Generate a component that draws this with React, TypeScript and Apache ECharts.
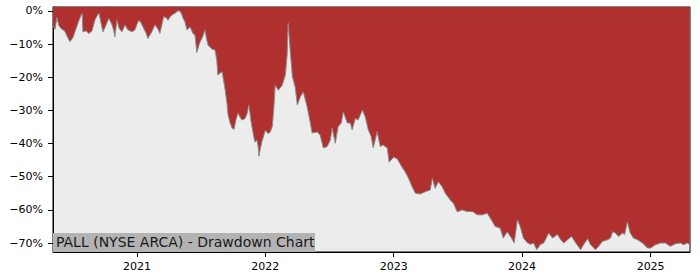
import React, { useEffect, useRef } from "react";
import * as echarts from "echarts";

const dates: string[] = [
  "2020-05-07","2020-05-13","2020-05-18","2020-05-24","2020-06-01","2020-06-09","2020-06-18","2020-06-24",
  "2020-07-03","2020-07-11","2020-07-17","2020-07-23","2020-07-29","2020-07-31","2020-08-09","2020-08-17",
  "2020-08-26","2020-09-03","2020-09-09","2020-09-15","2020-09-23","2020-09-26","2020-10-02","2020-10-07",
  "2020-10-13","2020-10-22","2020-10-27","2020-10-30","2020-11-05","2020-11-11","2020-11-19","2020-11-28",
  "2020-12-06","2020-12-18","2020-12-26","2021-01-01","2021-01-06","2021-01-12","2021-01-18","2021-01-26",
  "2021-02-01","2021-02-12","2021-02-21","2021-03-02","2021-03-07","2021-03-13","2021-03-18","2021-03-27",
  "2021-03-30","2021-04-05","2021-04-10","2021-04-19","2021-04-27","2021-05-03","2021-05-09","2021-05-12",
  "2021-05-17","2021-05-23","2021-06-01","2021-06-09","2021-06-15","2021-06-20","2021-06-29","2021-07-08",
  "2021-07-13","2021-07-19","2021-07-22","2021-08-02","2021-08-11","2021-08-16","2021-08-19","2021-08-25",
  "2021-08-31","2021-09-08","2021-09-14","2021-09-17","2021-09-22","2021-09-28","2021-10-04","2021-10-09",
  "2021-10-15","2021-10-21","2021-10-26","2021-11-04","2021-11-10","2021-11-15","2021-11-21","2021-11-24",
  "2021-12-02","2021-12-08","2021-12-11","2021-12-14","2021-12-17","2021-12-22","2022-01-01","2022-01-09",
  "2022-01-15","2022-01-21","2022-01-26","2022-01-29","2022-02-07","2022-02-18","2022-02-27","2022-03-04",
  "2022-03-07","2022-03-13","2022-03-19","2022-03-27","2022-04-02","2022-04-10","2022-04-19","2022-04-30",
  "2022-05-09","2022-05-14","2022-05-29","2022-06-06","2022-06-15","2022-06-26","2022-07-05","2022-07-10",
  "2022-07-19","2022-07-27","2022-08-05","2022-08-11","2022-08-22","2022-08-31","2022-09-05","2022-09-14",
  "2022-09-22","2022-10-04","2022-10-12","2022-10-21","2022-10-29","2022-11-04","2022-11-15","2022-11-24",
  "2022-12-02","2022-12-14","2022-12-19","2023-01-01","2023-01-11","2023-01-25","2023-02-03","2023-02-12",
  "2023-02-23","2023-03-04","2023-03-18","2023-04-01","2023-04-15","2023-04-21","2023-04-29","2023-05-08",
  "2023-05-19","2023-05-28","2023-06-11","2023-06-20","2023-07-01","2023-07-15","2023-07-29","2023-08-13",
  "2023-08-27","2023-09-10","2023-09-24","2023-10-03","2023-10-17","2023-10-31","2023-11-09","2023-11-20",
  "2023-12-02","2023-12-10","2023-12-19","2023-12-27","2024-01-05","2024-01-17","2024-01-26","2024-02-03",
  "2024-02-12","2024-02-23","2024-03-03","2024-03-17","2024-03-28","2024-04-11","2024-04-20","2024-04-29",
  "2024-05-10","2024-05-21","2024-06-02","2024-06-16","2024-06-24","2024-07-06","2024-07-14","2024-07-28",
  "2024-08-06","2024-08-17","2024-09-01","2024-09-09","2024-09-15","2024-09-23","2024-10-02","2024-10-13",
  "2024-10-19","2024-10-27","2024-11-04","2024-11-13","2024-11-24","2024-12-09","2024-12-23","2025-01-01",
  "2025-01-15","2025-01-29","2025-02-12","2025-02-26","2025-03-13","2025-03-27","2025-04-05","2025-04-16",
  "2025-04-22",
];

const drawdown: number[] = [
  -4.5,-5.5,-2.0,-4.5,-5.5,-6.0,-8.0,-9.3,
  -8.0,-5.5,-3.7,-2.0,-0.7,-6.3,-6.0,-6.8,
  -6.0,-2.8,-1.5,-0.7,-4.8,-6.3,-5.0,-3.7,
  -2.2,-4.2,-6.0,-7.8,-2.8,-5.2,-6.3,-4.2,
  -5.7,-6.3,-5.7,-4.0,-2.8,-3.5,-4.8,-6.5,
  -8.3,-6.3,-4.2,-5.5,-6.8,-4.0,-1.7,-2.2,
  -2.8,-1.8,-1.2,-0.7,0,0,-1.2,-2.2,
  -3.2,-5.7,-4.8,-6.8,-7.3,-12.5,-9.4,-7.5,
  -5.7,-9.0,-10.3,-11.5,-11.8,-15,-19.3,-18.8,
  -18.3,-23.3,-28,-31.4,-33.5,-35.3,-35.7,-33,
  -30.8,-32,-32.9,-32.5,-31,-28.4,-33,-35,
  -39.5,-39,-40.5,-43.8,-42,-39.5,-36,-37,
  -36.5,-34.8,-28,-22.4,-23.9,-22.4,-19.3,-13.3,
  -3.7,-12.4,-19.9,-23,-28.4,-26,-24.4,-29,
  -33.8,-36.8,-36.5,-37.5,-41.3,-40.9,-38.9,-35.3,
  -39.9,-34.9,-33.8,-30.4,-33.8,-33.8,-35.9,-32.4,
  -32.9,-29.9,-31.9,-35.9,-37.9,-41.3,-36.4,-40.9,
  -40.4,-41.4,-45.6,-44.1,-44.6,-47.1,-48.6,-50.4,
  -53.1,-55,-55.2,-54.5,-54,-50.5,-53.5,-51.5,
  -53,-55,-57,-58,-60.6,-60,-60.5,-60.5,
  -61.5,-61.5,-61,-62.5,-65,-65.5,-68.5,-66.6,
  -68.5,-70,-63,-65,-68.5,-70,-70.4,-70,
  -72,-70.4,-70,-67,-68.5,-67.4,-69,-70,
  -69,-68,-70,-72,-70.5,-68.7,-70.5,-72,
  -71,-69.5,-69,-68.5,-66.6,-67,-68,-67,
  -67.5,-63.6,-67,-68.5,-69,-70,-71.5,-71.5,
  -70.5,-70,-70,-71,-70.2,-70,-70.5,-70,
  -70.5,
];

const yTicks: number[] = [0, -10, -20, -30, -40, -50, -60, -70];
const yearTicks: string[] = ["2021-01-01", "2022-01-01", "2023-01-01", "2024-01-01", "2025-01-01"];
const xStart = "2020-05-07";
const xEnd = "2025-04-23";
const yMin = -72.7;
const yMax = 1.2;
const title = "PALL (NYSE ARCA) - Drawdown Chart";

const parseD = (s: string) => {
  const [y, m, d] = s.split("-").map(Number);
  return Date.UTC(y, m - 1, d);
};

export default function App() {
  const ref = useRef<HTMLDivElement>(null);
  useEffect(() => {
    document.body.style.margin = "0";
    if (!ref.current) return;
    const chart = echarts.init(ref.current, null, { renderer: "svg" });
    const font = "DejaVu Sans";
    chart.setOption({
      animation: false,
      grid: {
        left: 53,
        right: 10,
        top: 7,
        bottom: 28,
        show: true,
        backgroundColor: "#ececec",
        borderColor: "#000",
        borderWidth: 1,
        containLabel: false,
        outerBoundsMode: "none",
      },
      xAxis: {
        type: "value",
        min: parseD(xStart),
        max: parseD(xEnd),
        axisLine: { show: true, onZero: false, lineStyle: { color: "#000", width: 1 } },
        axisTick: {
          show: true,
          length: 5,
          inside: false,
          lineStyle: { color: "#000" },
          customValues: yearTicks.map(parseD),
        },
        axisLabel: {
          customValues: yearTicks.map(parseD),
          formatter: (v: number) => String(new Date(v).getUTCFullYear()),
          color: "#000",
          fontFamily: font,
          fontSize: 11,
          margin: 9,
          hideOverlap: false,
        },
        splitLine: { show: false },
      },
      yAxis: {
        type: "value",
        min: yMin,
        max: yMax,
        axisLine: { show: true, lineStyle: { color: "#000", width: 1 } },
        axisTick: {
          show: true,
          length: 5,
          lineStyle: { color: "#000" },
          customValues: yTicks,
        },
        axisLabel: {
          customValues: yTicks,
          formatter: (v: number) => (v === 0 ? "0%" : "\u2212" + Math.abs(v) + "%"),
          color: "#000",
          fontFamily: font,
          fontSize: 11,
          margin: 10,
        },
        splitLine: { show: false },
      },
      series: [
        {
          type: "line",
          data: dates.map((d, i) => [parseD(d), drawdown[i]]),
          showSymbol: false,
          symbol: "none",
          sampling: "none",
          lineStyle: { color: "#8c8c8c", width: 1 },
          areaStyle: { color: "#b03030", opacity: 1, origin: "end" },
          z: 2,
        },
      ],
      graphic: [
        {
          type: "rect",
          left: 53,
          top: 233,
          shape: { width: 262, height: 19 },
          style: { fill: "#b3b3b3" },
          z: 100,
        },
        {
          type: "text",
          left: 56,
          top: 235,
          style: {
            text: title,
            fill: "#1a1a1a",
            font: `14px "${font}"`,
          },
          z: 101,
        },
      ],
    });
    return () => chart.dispose();
  }, []);
  return <div ref={ref} style={{ width: 700, height: 280 }} />;
}
